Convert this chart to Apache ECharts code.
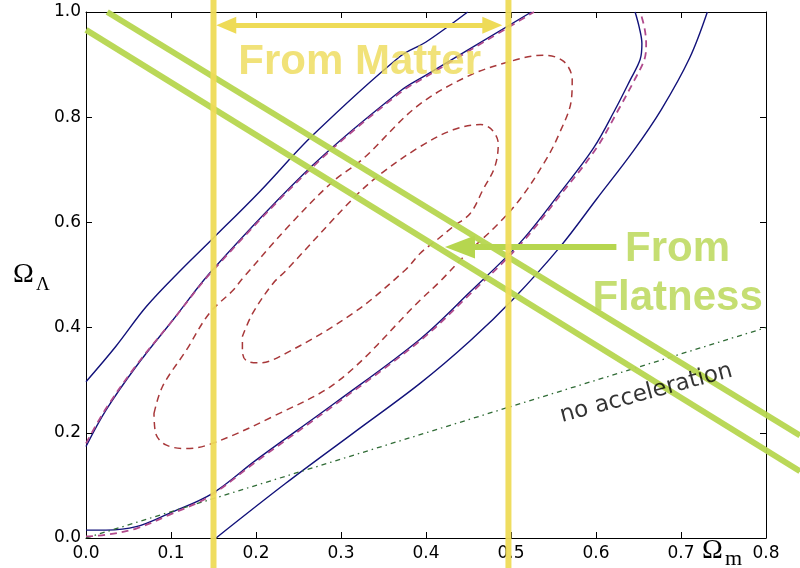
<!DOCTYPE html>
<html>
<head>
<meta charset="utf-8">
<script src="https://cdn.jsdelivr.net/npm/echarts@6/dist/echarts.min.js"></script>
<style>
  html, body { margin: 0; padding: 0; background: #fff; }
  #chart { width: 800px; height: 568px; }
</style>
</head>
<body>
<div id="chart"></div>
<script>
// tick labels
const xTickLabels = ['0.0', '0.1', '0.2', '0.3', '0.4', '0.5', '0.6', '0.7', '0.8'];
const yTickLabels = ['0.0', '0.2', '0.4', '0.6', '0.8', '1.0'];

// solid contours (navy), each cut by the frame into two branches
const outerBlueUpper = [[0, 0.297], [0.035, 0.364], [0.071, 0.44], [0.112, 0.51], [0.149, 0.569],
  [0.204, 0.658], [0.267, 0.766], [0.369, 0.915], [0.4, 0.943], [0.449, 1.0]];
const outerBlueLower = [[0.153, 0.0], [0.235, 0.104], [0.314, 0.199], [0.393, 0.294], [0.452, 0.375],
  [0.503, 0.455], [0.558, 0.554], [0.601, 0.645], [0.644, 0.736], [0.677, 0.815], [0.71, 0.912], [0.731, 1.0]];
const innerBlueUpper = [[0, 0.174], [0.0235, 0.243], [0.059, 0.326], [0.102, 0.414], [0.149, 0.51],
  [0.267, 0.709], [0.369, 0.849], [0.4, 0.88], [0.524, 1.0]];
const innerBlueLower = [[0, 0.015], [0.0235, 0.015], [0.059, 0.0215], [0.098, 0.047], [0.149, 0.085],
  [0.2, 0.148], [0.294, 0.258], [0.393, 0.378], [0.452, 0.468], [0.511, 0.562], [0.558, 0.657], [0.597, 0.741],
  [0.623, 0.816], [0.64, 0.87], [0.652, 0.91], [0.654, 0.94], [0.651, 0.97], [0.646, 1.0]];

// dashed contours
const dash3Upper = [[0, 0.18], [0.0235, 0.246], [0.059, 0.328], [0.102, 0.414], [0.149, 0.508],
  [0.267, 0.706], [0.369, 0.846], [0.4, 0.877], [0.527, 1.0]];
const dash3Lower = [[0, 0.003], [0.0235, 0.006], [0.059, 0.018], [0.098, 0.044], [0.145, 0.079],
  [0.2, 0.145], [0.294, 0.255], [0.393, 0.375], [0.452, 0.464], [0.511, 0.558], [0.558, 0.652], [0.6, 0.74],
  [0.627, 0.816], [0.645, 0.87], [0.657, 0.91], [0.659, 0.94], [0.657, 0.97], [0.652, 1.0]];
const dash2 = [[0.08, 0.237], [0.09, 0.288], [0.118, 0.357], [0.145, 0.427], [0.173, 0.471], [0.184, 0.493],
  [0.239, 0.594], [0.29, 0.677], [0.326, 0.721], [0.389, 0.82], [0.448, 0.877], [0.499, 0.906], [0.538, 0.918],
  [0.562, 0.906], [0.572, 0.871], [0.571, 0.833], [0.556, 0.766], [0.54, 0.716], [0.511, 0.645], [0.483, 0.594],
  [0.45, 0.544], [0.416, 0.487], [0.393, 0.452], [0.298, 0.30], [0.22, 0.231], [0.149, 0.18], [0.118, 0.17],
  [0.094, 0.177], [0.082, 0.199], [0.08, 0.237]];
const dash1 = [[0.184, 0.383], [0.196, 0.427], [0.22, 0.484], [0.235, 0.508], [0.314, 0.645], [0.345, 0.69],
  [0.393, 0.744], [0.432, 0.776], [0.464, 0.786], [0.477, 0.777], [0.485, 0.75], [0.481, 0.706], [0.467, 0.662],
  [0.452, 0.617], [0.432, 0.592], [0.413, 0.567], [0.393, 0.541], [0.376, 0.51], [0.314, 0.427], [0.235, 0.351],
  [0.204, 0.333], [0.188, 0.338], [0.184, 0.357], [0.184, 0.383]];

// no acceleration line
const noAccel = [[0, 0], [0.8, 0.4]];

// annotation bands
const matterLeft = [[0.15, -0.06], [0.15, 1.03]];
const matterRight = [[0.497, -0.06], [0.497, 1.03]];
const flatUpper = [[0.025, 1.0], [0.84, 0.195]];
const flatLower = [[0, 0.966], [0.84, 0.127]];
const matterArrow = [[0.165, 0.975], [0.478, 0.975]];
const flatArrow = [[0.44, 0.553], [0.624, 0.553]];

// annotation texts [x, y, text]
const labelsMatter = [[0.322, 0.905, 'From Matter']];
const labelsFlat = [[0.696, 0.548, 'From'], [0.696, 0.455, 'Flatness']];
const labelsAccel = [[0.659, 0.275, 'no acceleration']];

const NAVY = '#12127a';
const BROWN = '#a8383a';
const YELLOW = '#eedb57';
const GREEN = '#b6d64f';

const chart = echarts.init(document.getElementById('chart'));

function axisBase(extra) {
  return Object.assign({
    type: 'value',
    axisLine: { show: true, onZero: false, lineStyle: { color: '#000', width: 1 } },
    axisTick: { show: true, inside: true, length: 6, lineStyle: { color: '#000' } },
    splitLine: { show: false },
    axisLabel: { show: false }
  }, extra);
}

function curve(data, color, dashed, width, z) {
  return {
    type: 'line', data: data, symbol: 'none', smooth: 0.35, z: z || 2,
    lineStyle: { color: color, width: width || 1.4, type: dashed ? [7, 5] : 'solid' },
    silent: true, animation: false
  };
}

// bands live on a wider hidden grid so they can run past the right frame
function band(data, color, width) {
  return {
    type: 'line', data: data, symbol: 'none', clip: false, z: 5,
    xAxisIndex: 2, yAxisIndex: 2,
    lineStyle: { color: color, width: width, opacity: 0.95 },
    silent: true, animation: false
  };
}

function textSeries(rows, color, size, weight, font, rotate) {
  return {
    type: 'scatter', symbolSize: 1, clip: false, z: 10, silent: true, animation: false,
    itemStyle: { color: 'rgba(0,0,0,0)' },
    data: rows.map(r => ({ value: [r[0], r[1]], name: r[2] })),
    label: {
      show: true, position: 'inside', formatter: p => p.name,
      color: color, fontSize: size, fontWeight: weight, fontFamily: font, rotate: rotate || 0
    }
  };
}

function arrowSeries(pts, color, symbols, size, width) {
  return {
    type: 'line', data: [], z: 6, animation: false,
    markLine: {
      silent: true, animation: false, symbol: symbols, symbolSize: size,
      label: { show: false },
      lineStyle: { color: color, width: width, type: 'solid' },
      data: [[{ coord: pts[0] }, { coord: pts[1] }]]
    }
  };
}

const tickFont = { color: '#000', fontSize: 17, fontFamily: 'DejaVu Sans' };

chart.setOption({
  animation: false,
  grid: [
    { left: 86, right: 34, top: 12, bottom: 30, containLabel: false },
    { left: 86, right: 0, top: 12, bottom: 30, containLabel: false, show: false }
  ],
  xAxis: [
    axisBase({
      min: 0, max: 0.8, interval: 0.1, position: 'bottom',
      axisLabel: Object.assign({ show: true, margin: 7,
        formatter: v => xTickLabels[Math.round(v * 10)] }, tickFont)
    }),
    axisBase({ min: 0, max: 0.8, interval: 0.1, position: 'top' }),
    { type: 'value', gridIndex: 1, min: 0, max: 0.84, show: false }
  ],
  yAxis: [
    axisBase({
      min: 0, max: 1, interval: 0.2, position: 'left',
      axisLabel: Object.assign({ show: true, margin: 5,
        formatter: v => yTickLabels[Math.round(v * 5)] }, tickFont)
    }),
    axisBase({ min: 0, max: 1, interval: 0.2, position: 'right' }),
    { type: 'value', gridIndex: 1, min: 0, max: 1, show: false }
  ],
  graphic: [
    { type: 'text', left: 13, top: 261, style: { text: 'Ω', font: '28px "Liberation Serif"', fill: '#000' } },
    { type: 'text', left: 36, top: 276, style: { text: 'Λ', font: '19px "Liberation Serif"', fill: '#000' } },
    { type: 'text', left: 702, top: 537, style: { text: 'Ω', font: '28px "Liberation Serif"', fill: '#000' } },
    { type: 'text', left: 725, top: 548, style: { text: 'm', font: '22px "Liberation Serif"', fill: '#000' } }
  ],
  series: [
    curve(outerBlueUpper, NAVY),
    curve(outerBlueLower, NAVY),
    curve(innerBlueUpper, NAVY),
    curve(innerBlueLower, NAVY),
    curve(dash3Upper, '#b04a8c', true, 1.8, 3),
    curve(dash3Lower, '#b04a8c', true, 1.8, 3),
    curve(dash2, BROWN, true, 1.5),
    curve(dash1, BROWN, true, 1.5),
    {
      type: 'line', data: noAccel, symbol: 'none', z: 2, silent: true, animation: false,
      lineStyle: { color: '#2f6b35', width: 1.3, type: [5, 4, 1.5, 4] }
    },
    band(flatUpper, GREEN, 6),
    band(flatLower, GREEN, 6),
    band(matterLeft, YELLOW, 6),
    band(matterRight, YELLOW, 6),
    arrowSeries(matterArrow, YELLOW, ['triangle', 'triangle'], [17, 20], 5),
    arrowSeries(flatArrow, GREEN, ['triangle', 'none'], [23, 30], 6),
    textSeries(labelsMatter, YELLOW, 42, 'bold', 'Liberation Sans'),
    textSeries(labelsFlat, GREEN, 42, 'bold', 'Liberation Sans'),
    textSeries(labelsAccel, '#000', 23, 'normal', 'DejaVu Sans', 15)
  ]
});
</script>
</body>
</html>
